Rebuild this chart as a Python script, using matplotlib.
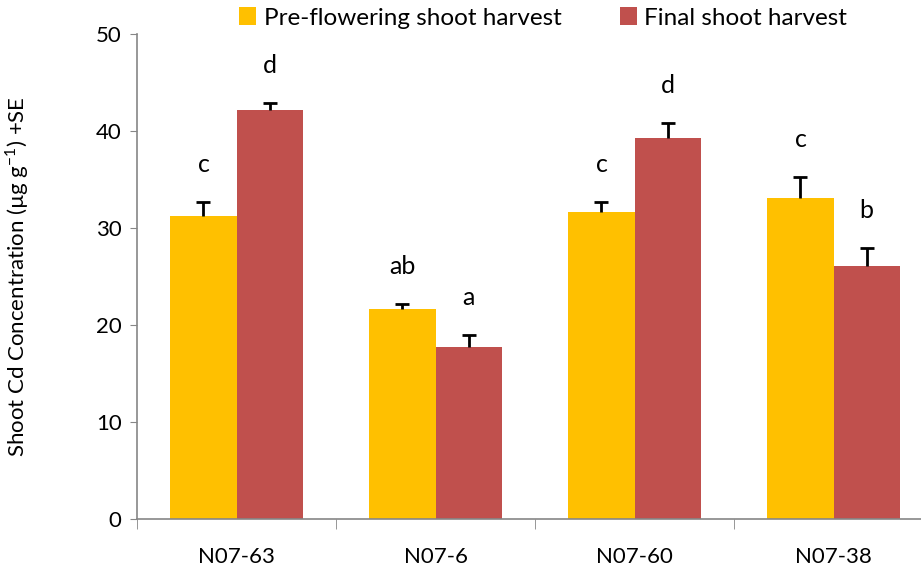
import matplotlib.pyplot as plt
import numpy as np

lines = ['N07-63', 'N07-6', 'N07-60', 'N07-38']
pre_flowering = [31.2, 21.7, 31.6, 33.1]
pre_flowering_se = [1.45, 0.45, 1.05, 2.15]
final_harvest = [42.2, 17.7, 39.3, 26.1]
final_harvest_se = [0.7, 1.25, 1.5, 1.8]
pre_letters = ['c', 'ab', 'c', 'c']
final_letters = ['d', 'a', 'd', 'b']

plt.rcParams['font.family'] = ['Lato', 'DejaVu Sans']
plt.rcParams['mathtext.fontset'] = 'custom'
plt.rcParams['mathtext.rm'] = 'Lato'

fig = plt.figure(figsize=(9.21, 5.77), dpi=100)
# right edge runs past the canvas on purpose, the last category is cut off
ax = fig.add_axes([137 / 921, 1 - 519 / 577, 796 / 921, 485 / 577])

x = np.arange(len(lines))
w = 0.332
yellow = '#FFC000'
red = '#C0504D'

ax.bar(x - w / 2, pre_flowering, width=w, color=yellow, label='Pre-flowering shoot harvest')
ax.bar(x + w / 2, final_harvest, width=w, color=red, label='Final shoot harvest')
for xs, ys, se in [(x - w / 2, pre_flowering, pre_flowering_se),
                   (x + w / 2, final_harvest, final_harvest_se)]:
    eb = ax.errorbar(xs, ys, yerr=[np.zeros(len(se)), se], fmt='none',
                     ecolor='black', elinewidth=2, capsize=5, capthick=2)
    # only the upper cap is wanted
    eb.lines[1][0].set_visible(False)

# significance letters above the error caps
for i in range(len(lines)):
    ax.annotate(pre_letters[i], (x[i] - w / 2, pre_flowering[i] + pre_flowering_se[i]),
                xytext=(0, 27), textcoords='offset points', ha='center', va='center', fontsize=18)
    ax.annotate(final_letters[i], (x[i] + w / 2, final_harvest[i] + final_harvest_se[i]),
                xytext=(0, 27), textcoords='offset points', ha='center', va='center', fontsize=18)

ax.set_xlim(-0.5, len(lines) - 0.5)
ax.set_ylim(0, 50)
ax.set_yticks(range(0, 51, 10))
ax.tick_params(axis='y', labelsize=16, length=5, color='#868686', pad=6)
ax.set_xticks(x)
ax.set_xticklabels(lines, fontsize=16)
ax.tick_params(axis='x', length=0, pad=20)
ax.set_xticks(np.arange(len(lines)) - 0.5, minor=True)
ax.tick_params(axis='x', which='minor', length=7, color='#868686')

for s in ['top', 'right']:
    ax.spines[s].set_visible(False)
for s in ['left', 'bottom']:
    ax.spines[s].set_color('#868686')
    ax.spines[s].set_linewidth(1.2)

ax.set_ylabel('Shoot Cd Concentration (\u00b5g g$^{\\mathrm{-1}}$) +SE', fontsize=16)
ax.yaxis.set_label_coords(-0.133, 0.5)

fig.legend(loc='center', bbox_to_anchor=(543 / 921, 1 - 18 / 577), ncol=2, frameon=False,
           fontsize=17.5, handlelength=0.7, handleheight=0.7, handletextpad=0.3, columnspacing=2.4)

fig.savefig('out.png', dpi=100)
